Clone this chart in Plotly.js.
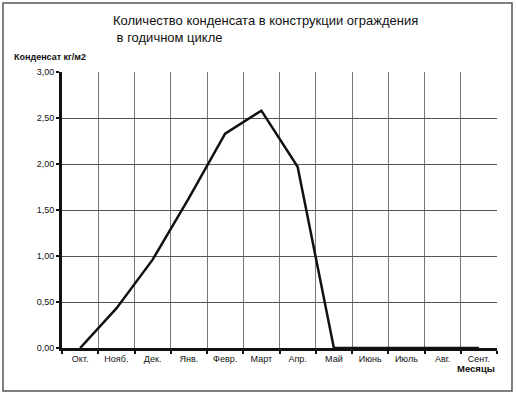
<!DOCTYPE html>
<html>
<head>
<meta charset="utf-8">
<script src="https://cdn.plot.ly/plotly-3.0.1.min.js"></script>
<style>html,body{margin:0;padding:0;background:#fff;}#chart{width:516px;height:396px;}</style>
</head>
<body>
<div id="chart"></div>
<script>
const months = ["Окт.", "Нояб.", "Дек.", "Янв.", "Февр.", "Март", "Апр.", "Май", "Июнь", "Июль", "Авг.", "Сент."];
const condensate = [0.00, 0.43, 0.96, 1.63, 2.33, 2.58, 1.97, 0.00, 0.00, 0.00, 0.00, 0.00];
const yTicks = [0, 0.5, 1, 1.5, 2, 2.5, 3];
const titleLines = ["Количество конденсата в конструкции ограждения", " в годичном цикле"];

const trace = {
  x: months, y: condensate, type: "scatter", mode: "lines",
  line: {color: "#111", width: 2.5}, hoverinfo: "skip", cliponaxis: false
};

const font = "Liberation Sans, Arial, sans-serif";
const layout = {
  width: 516, height: 396,
  margin: {l: 62, r: 19, t: 72, b: 48},
  paper_bgcolor: "#fff", plot_bgcolor: "#fff",
  separators: ", ",
  showlegend: false,
  font: {family: font, size: 9, color: "#111"},
  xaxis: {
    type: "category", tickson: "boundaries",
    showgrid: true, gridcolor: "#777", gridwidth: 1,
    showline: true, linecolor: "#111", linewidth: 3,
    ticks: "outside", ticklen: 3, tickwidth: 2, tickcolor: "#111",
    tickfont: {family: font, size: 9, color: "#111"},
    range: [-0.5, 11.5], zeroline: false, fixedrange: true
  },
  yaxis: {
    range: [0, 3], tickvals: yTicks, tickformat: ".2f",
    showgrid: true, gridcolor: "#555", gridwidth: 1,
    showline: true, linecolor: "#111", linewidth: 3,
    ticks: "outside", ticklen: 3, tickwidth: 2, tickcolor: "#111",
    tickfont: {family: font, size: 9, color: "#111"},
    zeroline: false, fixedrange: true
  },
  annotations: [
    {text: titleLines[0], xref: "paper", yref: "paper",
     x: 49/435, y: 1 + 52/276, xanchor: "left", yanchor: "middle", showarrow: false,
     font: {family: font, size: 13, color: "#111"}},
    {text: titleLines[1], xref: "paper", yref: "paper",
     x: 49/435, y: 1 + 35/276, xanchor: "left", yanchor: "middle", showarrow: false,
     font: {family: font, size: 13, color: "#111"}},
    {text: "<b>Конденсат кг/м2</b>", xref: "paper", yref: "paper",
     x: -50/435, y: 1 + 15/276, xanchor: "left", yanchor: "middle", showarrow: false,
     font: {family: font, size: 9, color: "#111"}},
    {text: "<b>Месяцы</b>", xref: "paper", yref: "paper",
     x: 1, y: -20/276, xanchor: "right", yanchor: "middle", showarrow: false,
     font: {family: font, size: 9.5, color: "#111"}}
  ],
  shapes: [
    {type: "rect", xref: "paper", yref: "paper",
     x0: -59/435, x1: 1 + 15/435, y0: -43/276, y1: 1 + 69/276,
     line: {color: "#555", width: 1.5}, fillcolor: "rgba(0,0,0,0)", layer: "below"}
  ]
};

Plotly.newPlot("chart", [trace], layout, {displayModeBar: false, staticPlot: true});
</script>
</body>
</html>
